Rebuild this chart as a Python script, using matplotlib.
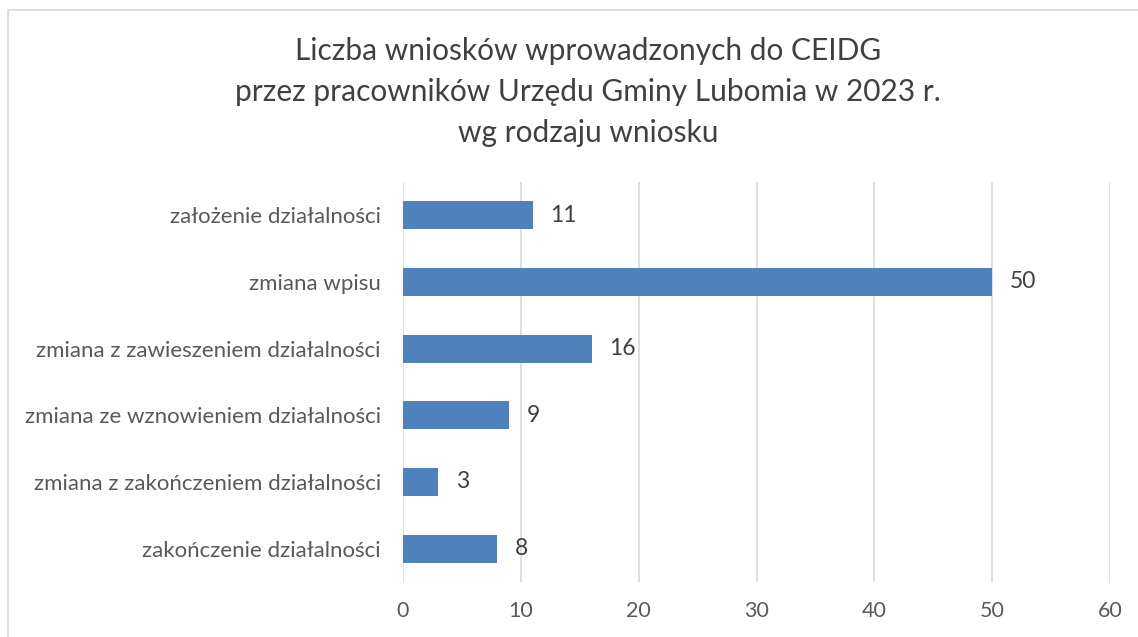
import matplotlib.pyplot as plt
from matplotlib.patches import Rectangle

# Data
categories = ['założenie działalności', 'zmiana wpisu', 'zmiana z zawieszeniem działalności',
              'zmiana ze wznowieniem działalności', 'zmiana z zakończeniem działalności',
              'zakończenie działalności']
values = [11, 50, 16, 9, 3, 8]
x_ticks = [0, 10, 20, 30, 40, 50, 60]
title = 'Liczba wniosków wprowadzonych do CEIDG\nprzez pracowników Urzędu Gminy Lubomia w 2023 r.\nwg rodzaju wniosku'

plt.rcParams['font.family'] = ['Lato', 'DejaVu Sans']

my_dpi = 100
fig = plt.figure(figsize=(1138 / my_dpi, 637 / my_dpi), dpi=my_dpi)
ax = fig.add_axes([403 / 1138, 1 - 582 / 637, 707 / 1138, 400 / 637])

ypos = list(range(len(categories)))
ax.barh(ypos, values, height=0.42, color='#4f81bd', zorder=3)
for y, v in zip(ypos, values):
    ax.text(v + 1.5, y, str(v), va='center', ha='left', fontsize=16.5, color='#404040')

ax.set_xlim(0, 60)
ax.set_ylim(len(categories) - 0.5, -0.5)
ax.set_xticks(x_ticks)
ax.set_xticklabels([str(t) for t in x_ticks], fontsize=15.5, color='#595959')
ax.set_yticks(ypos)
ax.set_yticklabels(categories, fontsize=16, color='#595959')
ax.tick_params(length=0, pad=14)
ax.tick_params(axis='y', pad=16)
ax.grid(axis='x', color='#d9d9d9', linewidth=1.2, zorder=0)
for s in ax.spines.values():
    s.set_visible(False)

fig.text(588 / 1138, 1 - 92 / 637, title, ha='center', va='center', fontsize=21.5,
         color='#404040', linespacing=1.55)

# outer border
fig.patches.append(Rectangle((8 / 1138, -0.1), 1.2, 1 - 10 / 637 + 0.1, transform=fig.transFigure,
                             fill=False, edgecolor='#d9d9d9', linewidth=1.2))

plt.savefig('out.png', dpi=my_dpi)
